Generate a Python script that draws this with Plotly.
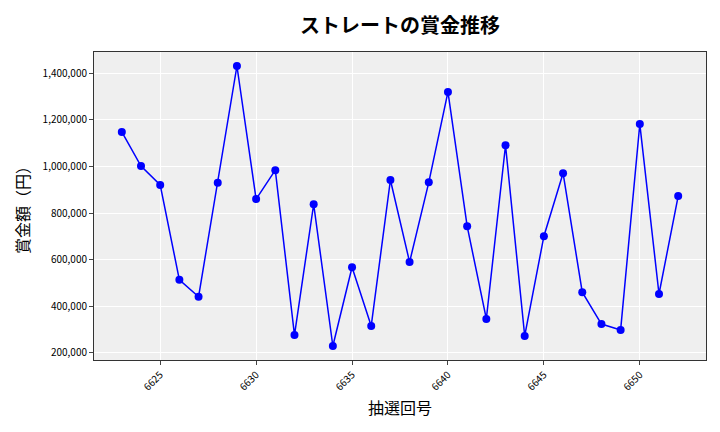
import plotly.graph_objects as go

draws = list(range(6623, 6653))
prizes = [1148000, 1002000, 921000, 514000, 441000, 930000, 1431000, 860000, 984000, 277000,
          838000, 230000, 568000, 316000, 942000, 590000, 932000, 1320000, 744000, 346000,
          1091000, 273000, 701000, 971000, 461000, 324000, 299000, 1182000, 453000, 873000]

title = "ストレートの賞金推移"
xlabel = "抽選回号"
ylabel = "賞金額（円）"
font = "Noto Sans CJK JP"

fig = go.Figure(go.Scatter(
    x=draws, y=prizes, mode="lines+markers",
    line=dict(color="#0000ff", width=1.5),
    marker=dict(color="#0000ff", size=8),
))

span = max(prizes) - min(prizes)
fig.update_layout(
    width=720, height=432,
    margin=dict(l=94, r=14, t=52, b=72),
    paper_bgcolor="white", plot_bgcolor="#efefef",
    showlegend=False,
    font=dict(family=font, color="black"),
    title=dict(text="<b>" + title + "</b>", x=0.5, xref="paper", xanchor="center",
               y=0.94, yanchor="middle",
               font=dict(size=20, family=font, color="black")),
    xaxis=dict(
        range=[draws[0] - 1.45, draws[-1] + 1.45],
        tickmode="linear", tick0=6625, dtick=5, tickangle=-45,
        tickfont=dict(size=10, family=font), ticks="outside", ticklen=4,
        gridcolor="white", gridwidth=1, showline=True, linecolor="#333", mirror=True,
        zeroline=False,
        title=dict(text=xlabel, font=dict(size=16, family=font), standoff=10),
    ),
    yaxis=dict(
        range=[min(prizes) - 0.05 * span, max(prizes) + 0.05 * span],
        tickmode="linear", tick0=200000, dtick=200000, tickformat=",d",
        tickfont=dict(size=10, family=font), ticks="outside", ticklen=4,
        gridcolor="white", gridwidth=1, showline=True, linecolor="#333", mirror=True,
        zeroline=False,
        title=dict(text=ylabel, font=dict(size=16, family=font), standoff=8),
    ),
)

fig.write_html("out.html")
